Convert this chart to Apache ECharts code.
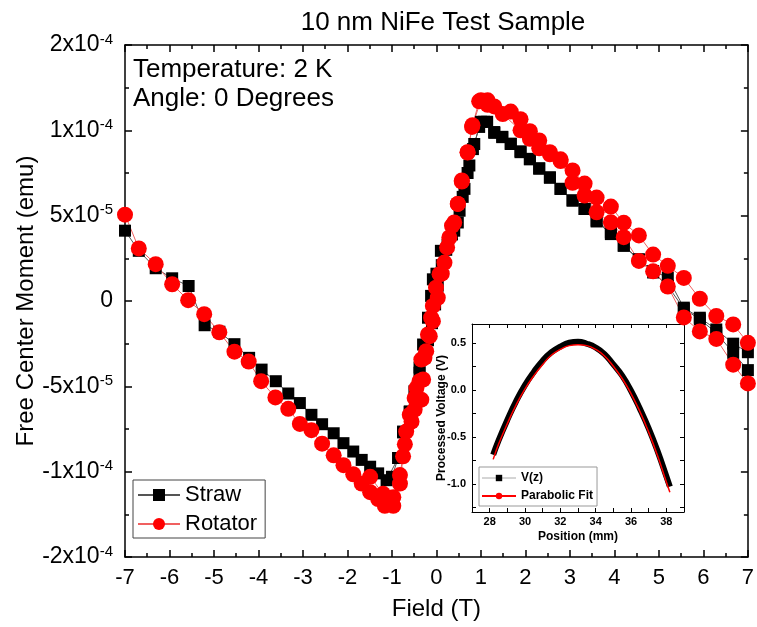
<!DOCTYPE html>
<html>
<head>
<meta charset="utf-8">
<script src="https://cdn.jsdelivr.net/npm/echarts@6/dist/echarts.min.js"></script>
<style>
  body { margin: 0; background: #fff; }
</style>
</head>
<body>
<div id="main" style="width:757px;height:627px;"></div>
<script>
// moment values are in units of 1e-5 emu
var strawField1 = [7.0, 6.67, 6.29, 5.92, 5.56, 5.20, 4.87, 4.55, 4.21, 3.92, 3.60, 3.33, 3.06, 2.79, 2.55, 2.31, 2.10, 1.89, 1.67, 1.48, 1.30, 1.14, 1.00, 0.85, 0.74, 0.63, 0.52, 0.40, 0.25, 0.10, 0.00, -0.08, -0.12, -0.19, -0.30, -0.38, -0.49, -0.60, -0.75, -0.86, -1.12, -1.31, -1.49, -1.68, -1.87, -2.09, -2.31, -2.57, -2.81, -3.07, -3.33, -3.61, -3.93, -4.21, -4.54, -4.88, -5.21, -5.57, -5.94, -6.31, -6.69, -7.0];
var strawMoment1 = [-3.0, -2.5, -1.67, -0.98, -0.39, 1.37, 1.76, 2.45, 3.24, 3.92, 4.66, 5.39, 5.88, 6.57, 7.22, 7.78, 8.33, 8.77, 9.22, 9.62, 9.9, 10.5, 10.5, 9.2, 7.94, 6.57, 5.29, 4.12, 3.3, 2.94, 1.6, 1.27, 0.3, -0.98, -2.55, -3.9, -5.29, -6.47, -7.7, -9.2, -10.5, -10.1, -9.71, -9.31, -8.82, -8.33, -7.75, -7.22, -6.67, -5.98, -5.42, -4.7, -4.02, -3.33, -2.53, -1.8, -1.42, 0.88, 1.33, 1.92, 2.94, 4.12];
var strawField2 = [-1.00, -0.86, -0.75, -0.60, -0.49, -0.38, -0.27, -0.19, -0.10, -0.03, 0.03, 0.12, 0.22, 0.35, 0.48, 0.59, 0.70, 0.82, 0.96, 1.07, 1.30, 1.48, 1.67, 1.89, 2.10, 2.31, 2.55, 2.79, 3.06, 3.33, 3.60, 3.92, 4.21, 4.55, 4.87, 5.20, 5.56, 5.92, 6.29, 6.67, 7.0];
var strawMoment2 = [-10.3, -9.2, -7.65, -6.5, -5.3, -4.2, -3.3, -2.3, -1.3, -0.2, 0.9, 2.1, 3.0, 3.9, 4.6, 6.1, 7.5, 8.9, 10.2, 10.5, 9.85, 9.6, 9.2, 8.72, 8.3, 7.75, 7.25, 6.57, 5.9, 5.39, 4.71, 4.02, 3.24, 2.4, 1.67, 0.88, -0.45, -1.08, -1.86, -3.04, -4.05];

var rotField1 = [7.0, 6.67, 6.29, 5.92, 5.56, 5.20, 4.87, 4.55, 4.21, 3.92, 3.60, 3.33, 3.06, 2.79, 2.55, 2.31, 2.10, 1.89, 1.67, 1.30, 1.15, 1.00, 0.81, 0.70, 0.57, 0.48, 0.35, 0.24, 0.07, 0.03, -0.08, -0.15, -0.23, -0.34, -0.38, -0.49, -0.56, -0.71, -0.82, -0.97, -1.16, -1.31, -1.49, -1.68, -1.87, -2.09, -2.31, -2.57, -2.81, -3.07, -3.33, -3.62, -3.94, -4.22, -4.54, -4.88, -5.22, -5.58, -5.94, -6.31, -6.69, -7.0];
var rotMoment1 = [-2.45, -1.37, -0.88, 0.13, 1.35, 2.06, 2.72, 3.84, 4.58, 5.53, 6.06, 6.88, 7.65, 8.3, 8.72, 9.41, 9.95, 10.65, 11.1, 11.4, 11.76, 11.76, 10.3, 8.72, 7.0, 5.69, 4.41, 3.14, 1.57, 0.19, -1.18, -2.06, -2.94, -3.43, -4.7, -5.69, -7.06, -8.4, -10.2, -12.0, -12.0, -11.6, -11.2, -10.7, -10.15, -9.62, -9.04, -8.36, -7.57, -7.2, -6.32, -5.65, -4.7, -3.55, -2.97, -1.83, -0.77, 0.05, 0.98, 2.16, 3.08, 5.06];
var rotField2 = [-1.49, -1.20, -0.97, -0.82, -0.75, -0.68, -0.60, -0.49, -0.45, -0.34, -0.30, -0.27, -0.19, -0.12, -0.08, -0.01, 0.12, 0.18, 0.29, 0.40, 0.48, 0.57, 0.70, 0.80, 0.96, 1.15, 1.49, 1.89, 2.10, 2.31, 2.55, 2.79, 3.06, 3.33, 3.60, 3.92, 4.21, 4.55, 4.87, 5.20, 5.56, 5.92, 6.29, 6.67, 7.0];
var rotMoment2 = [-10.3, -11.3, -11.5, -10.7, -9.1, -7.65, -6.67, -6.37, -5.1, -5.78, -4.6, -3.33, -1.96, -0.98, -0.29, 0.78, 1.6, 2.25, 3.72, 4.6, 5.69, 7.06, 8.7, 10.2, 11.7, 11.5, 10.95, 10.0, 9.5, 8.95, 8.6, 8.2, 6.93, 6.18, 5.2, 4.61, 3.74, 2.35, 1.74, 0.85, -0.96, -1.78, -2.22, -3.73, -4.83];

// inset
var insetPos = [28.2, 28.5, 29, 29.5, 30, 30.5, 31, 31.5, 32, 32.5, 33, 33.5, 34, 34.5, 35, 35.5, 36, 36.5, 37, 37.5, 38, 38.2];
var insetV = [-0.69, -0.54, -0.32, -0.12, 0.05, 0.19, 0.31, 0.40, 0.46, 0.50, 0.51, 0.49, 0.45, 0.38, 0.27, 0.15, -0.01, -0.20, -0.41, -0.65, -0.92, -1.03];
var insetFit = [-0.74, -0.58, -0.36, -0.16, 0.01, 0.15, 0.27, 0.37, 0.43, 0.47, 0.48, 0.47, 0.43, 0.36, 0.25, 0.12, -0.04, -0.23, -0.45, -0.70, -0.98, -1.09];

// tick labels
var yTickValues = [-15, -10, -5, 0, 5, 10, 15];
var yTickMant = ['-2x10', '-1x10', '-5x10', '0', '5x10', '1x10', '2x10'];
var yTickExp = ['-4', '-4', '-5', '', '-5', '-4', '-4'];
var insetXLabels = [28, 30, 32, 34, 36, 38];
var insetYLabels = [-1.0, -0.5, 0.0, 0.5];
var insetYTicks = [-1.25, -1.0, -0.75, -0.5, -0.25, 0, 0.25, 0.5];

function zip(a, b) {
  var out = [];
  for (var i = 0; i < a.length; i++) out.push([a[i], b[i]]);
  return out;
}

var font = "'Liberation Sans', Arial, sans-serif";
var chart = echarts.init(document.getElementById('main'));

var mainTick = { show: true, inside: true, length: 7, lineStyle: { color: '#000', width: 1.5 } };
var mainMinor = { show: true, splitNumber: 2, length: 4, lineStyle: { color: '#000', width: 1.5 } };
var mainLine = { show: true, onZero: false, lineStyle: { color: '#000', width: 1.5 } };
var insetTick = { show: true, inside: true, length: 4, lineStyle: { color: '#000', width: 1 } };
var insetLine = { show: true, onZero: false, lineStyle: { color: '#000', width: 1 } };

function strawSeries(d) {
  return {
    name: 'Straw', type: 'line', data: d, xAxisIndex: 0, yAxisIndex: 0,
    symbol: 'rect', symbolSize: 12, itemStyle: { color: '#000' },
    lineStyle: { color: '#555', width: 1 }, emphasis: { disabled: true }
  };
}
function rotSeries(d) {
  return {
    name: 'Rotator', type: 'line', data: d, xAxisIndex: 0, yAxisIndex: 0,
    symbol: 'circle', symbolSize: 16, itemStyle: { color: '#ff0000' },
    lineStyle: { color: '#f06060', width: 1 }, emphasis: { disabled: true }
  };
}

var option = {
  animation: false,
  title: {
    text: '10 nm NiFe Test Sample', left: 438, top: 5, textAlign: 'center',
    textStyle: { fontFamily: font, fontSize: 26, fontWeight: 'normal', color: '#000' }
  },
  grid: [
    { left: 125, right: 5, top: 45, bottom: 70, containLabel: false },
    { left: 472, top: 324, width: 212, height: 188, show: true, backgroundColor: '#fff', borderWidth: 0 }
  ],
  legend: [
    {
      data: ['Straw', 'Rotator'], orient: 'vertical', left: 133, top: 480,
      itemWidth: 42, itemHeight: 15, itemGap: 7,
      borderColor: '#444', borderWidth: 1, padding: [4, 8, 3, 4],
      textStyle: { fontFamily: font, fontSize: 22, color: '#000' }
    },
    {
      data: [
        { name: 'V(z)', itemStyle: { color: '#000' }, lineStyle: { color: '#aaa', width: 1 } },
        { name: 'Parabolic Fit' }
      ],
      orient: 'vertical', left: 479, top: 467,
      itemWidth: 34, itemHeight: 8, itemGap: 6,
      borderColor: '#999', borderWidth: 1, padding: [5, 4, 4, 2],
      textStyle: { fontFamily: font, fontSize: 12, fontWeight: 'bold', color: '#000' }
    }
  ],
  graphic: [
    { type: 'text', left: 133, top: 57, style: { text: 'Temperature: 2 K', font: '26px ' + font, fill: '#000' } },
    { type: 'text', left: 133, top: 86, style: { text: 'Angle: 0 Degrees', font: '26px ' + font, fill: '#000' } }
  ],
  xAxis: [
    {
      type: 'value', gridIndex: 0, min: -7, max: 7, interval: 1, position: 'bottom',
      name: 'Field (T)', nameLocation: 'middle', nameGap: 40, nameMoveOverlap: false,
      nameTextStyle: { fontFamily: font, fontSize: 24, color: '#000' },
      axisLine: mainLine, axisTick: mainTick, minorTick: mainMinor, splitLine: { show: false },
      axisLabel: { fontFamily: font, fontSize: 22, color: '#000', margin: 10 }
    },
    {
      type: 'value', gridIndex: 0, min: -7, max: 7, interval: 1, position: 'top',
      axisLine: mainLine, axisTick: mainTick, minorTick: mainMinor, splitLine: { show: false },
      axisLabel: { show: false }
    },
    {
      type: 'value', gridIndex: 1, min: 27, max: 39, interval: 1, position: 'bottom',
      name: 'Position (mm)', nameLocation: 'middle', nameGap: 19, nameMoveOverlap: false,
      nameTextStyle: { fontFamily: font, fontSize: 12, fontWeight: 'bold', color: '#000' },
      axisLine: insetLine, axisTick: insetTick, splitLine: { show: false },
      axisLabel: {
        customValues: insetXLabels, fontFamily: font, fontSize: 11, fontWeight: 'bold', color: '#000', margin: 4,
        formatter: function (v) { return v % 2 === 0 ? String(v) : ''; }
      }
    },
    {
      type: 'value', gridIndex: 1, min: 27, max: 39, interval: 1, position: 'top',
      axisLine: insetLine, axisTick: insetTick, splitLine: { show: false }, axisLabel: { show: false }
    }
  ],
  yAxis: [
    {
      type: 'value', gridIndex: 0, min: -15, max: 15, interval: 5, position: 'left',
      name: 'Free Center Moment (emu)', nameLocation: 'middle', nameGap: 87, nameMoveOverlap: false,
      nameTextStyle: { fontFamily: font, fontSize: 24, color: '#000' },
      axisLine: mainLine, axisTick: mainTick, minorTick: mainMinor, splitLine: { show: false },
      axisLabel: {
        margin: 12, color: '#000',
        formatter: function (v) {
          var i = yTickValues.indexOf(v);
          if (i < 0) return '';
          return '{m|' + yTickMant[i] + '}' + (yTickExp[i] ? '{e|' + yTickExp[i] + '}' : '');
        },
        rich: {
          m: { fontFamily: font, fontSize: 23, color: '#000', lineHeight: 26 },
          e: { fontFamily: font, fontSize: 15, color: '#000', verticalAlign: 'top', lineHeight: 15 }
        }
      }
    },
    {
      type: 'value', gridIndex: 0, min: -15, max: 15, interval: 5, position: 'right',
      axisLine: mainLine, axisTick: mainTick, minorTick: mainMinor, splitLine: { show: false },
      axisLabel: { show: false }
    },
    {
      type: 'value', gridIndex: 1, min: -1.3, max: 0.7, position: 'left',
      name: 'Processed Voltage (V)', nameLocation: 'middle', nameGap: 24, nameMoveOverlap: false,
      nameTextStyle: { fontFamily: font, fontSize: 12, fontWeight: 'bold', color: '#000' },
      axisLine: insetLine, axisTick: Object.assign({ customValues: insetYTicks }, insetTick), splitLine: { show: false },
      axisLabel: {
        customValues: insetYLabels, fontFamily: font, fontSize: 11, fontWeight: 'bold', color: '#000', margin: 6,
        formatter: function (v) { return v.toFixed(1); }
      }
    },
    {
      type: 'value', gridIndex: 1, min: -1.3, max: 0.7, position: 'right',
      axisLine: insetLine, axisTick: Object.assign({ customValues: insetYTicks }, insetTick),
      splitLine: { show: false }, axisLabel: { show: false }
    }
  ],
  series: [
    strawSeries(zip(strawField1, strawMoment1)),
    strawSeries(zip(strawField2, strawMoment2)),
    rotSeries(zip(rotField1, rotMoment1)),
    rotSeries(zip(rotField2, rotMoment2)),
    {
      name: 'V(z)', type: 'line', xAxisIndex: 2, yAxisIndex: 2, data: zip(insetPos, insetV),
      smooth: true, symbol: 'rect', symbolSize: 5, showSymbol: false,
      itemStyle: { color: '#000' }, lineStyle: { color: '#000', width: 6 }, emphasis: { disabled: true }
    },
    {
      name: 'Parabolic Fit', type: 'line', xAxisIndex: 2, yAxisIndex: 2, data: zip(insetPos, insetFit),
      smooth: true, symbol: 'none',
      itemStyle: { color: '#ff0000' }, lineStyle: { color: '#ff0000', width: 1.5 }, emphasis: { disabled: true }
    }
  ]
};
chart.setOption(option);
</script>
</body>
</html>
